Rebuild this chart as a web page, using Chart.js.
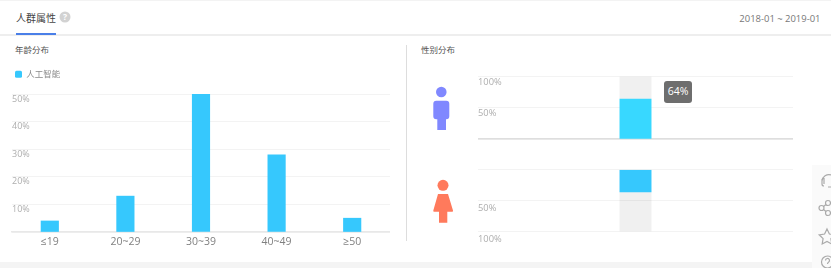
<!DOCTYPE html>
<html lang="zh">
<head>
<meta charset="utf-8">
<title>人群属性</title>
<script src="https://cdn.jsdelivr.net/npm/chart.js@4/dist/chart.umd.min.js"></script>
<style>
    html, body { margin: 0; padding: 0; background: #fff; }
    body { width: 831px; height: 268px; overflow: hidden; position: relative; font-family: "Open Sans", "Noto Sans CJK SC", sans-serif; }
    .abs { position: absolute; white-space: nowrap; }
    canvas { position: absolute; }
</style>
</head>
<body>
<div class="abs" style="left:0;top:0;width:831px;height:1px;background:#f3f3f3"></div>
<div class="abs" style="left:16px;top:10px;font-size:10px;line-height:16px;color:#444">人群属性</div>
<svg class="abs" style="left:59px;top:11px" width="12" height="12">
    <circle cx="6" cy="6" r="5.5" fill="#d2d2d2"/>
    <text x="6" y="9" font-size="8.5" font-weight="700" text-anchor="middle" fill="#fff">?</text>
</svg>
<div class="abs" style="left:0;top:34px;width:831px;height:1.5px;background:#eee"></div>
<div class="abs" style="left:16px;top:33px;width:40px;height:1.5px;background:#4a7fe8"></div>
<div class="abs" id="range" style="right:10.5px;top:11px;font-size:9.45px;line-height:16px;color:#777"></div>

<div class="abs" style="left:15px;top:43px;font-size:8.5px;line-height:14px;color:#555">年龄分布</div>
<div class="abs" style="left:421px;top:43px;font-size:8.5px;line-height:14px;color:#555">性别分布</div>
<div class="abs" style="left:406px;top:45px;width:1px;height:196px;background:#ddd"></div>

<svg class="abs" style="left:425px;top:80px" width="40" height="150">
    <circle cx="16.3" cy="12" r="5.3" fill="#8088ff"/>
    <path d="M11.3 20.7h10a3 3 0 0 1 3 3v12.6a3 3 0 0 1-3 3h-.3V50h-8.700V39.300h-1a3 3 0 0 1-3-3V23.700a3 3 0 0 1 3-3z" fill="#8088ff"/>
    <circle cx="18" cy="105.3" r="5.5" fill="#ff7a5c"/>
    <path d="M13 114h10l5 16.500q.4 1.200-1 1.200h-4.700V142.700h-8.300V131.700H9.300q-1.400 0-1-1.200z" fill="#ff7a5c"/>
</svg>

<canvas id="age" width="390" height="185" style="left:0;top:67px"></canvas>
<canvas id="male" width="315" height="75" style="left:478px;top:70px"></canvas>
<canvas id="female" width="315" height="80" style="left:478px;top:164px"></canvas>
<div class="abs" id="tip" style="left:664px;top:81px;width:28px;height:22px;line-height:21px;text-align:center;border-radius:3px;background:#6e6e6e;color:#fff;font-size:10.5px"></div>

<div class="abs" style="left:0;top:261.500px;width:812px;height:7px;background:#f4f4f4"></div>
<div class="abs" style="left:812px;top:165px;width:19px;height:103px;background:#fafafa"></div>
<svg class="abs" style="left:812px;top:165px" width="19" height="103" fill="none" stroke="#aaa" stroke-width="1.200">
    <path d="M10 16a7 7 0 0 1 9-6M10 14v5q0 2 2 2M12 13v6M16 22h3"/>
    <circle cx="9.500" cy="43" r="2.500"/><circle cx="16" cy="38" r="2.500"/><circle cx="16" cy="48" r="2.500"/>
    <path d="M11.500 41.500l2.500-2M11.500 44.500l2.500 2"/>
    <path d="M15 64l2.400 5 5.400.8-3.900 3.800.9 5.400-4.800-2.500-4.800 2.500.9-5.400-3.900-3.800 5.400-.8z"/>
    <circle cx="15.500" cy="97" r="6"/>
    <path d="M13.500 95.500a2 2 0 1 1 3 1.700q-1 .6-1 1.800"/>
</svg>

<script>
var dateRange = '2018-01 ~ 2019-01';
var seriesName = '人工智能';
var ageLabels = ['≤19', '20~29', '30~39', '40~49', '≥50'];
var ageValues = [4, 13, 50, 28, 5];
var genderLabels = ['性别'];
var maleValues = [64];
var maleRest = [36];
var femaleValues = [36];
var femaleRest = [64];

var fontFamily = '"Open Sans", "Noto Sans CJK SC", sans-serif';
var gridColor = '#f3f3f3';
var percent = function(v) { return v === 0 ? '' : v + '%'; };

document.getElementById('range').textContent = dateRange;
document.getElementById('tip').textContent = maleValues[0] + '%';

// espaco entre a legenda e o grafico
var legendGap = {
    id: 'legendGap',
    beforeInit: function(chart) {
        var fit = chart.legend.fit;
        chart.legend.fit = function() {
            fit.call(this);
            this.height += 5.5;
        };
    }
};

new Chart(document.getElementById('age').getContext('2d'), {
    type: 'bar',
    data: {
        labels: ageLabels,
        datasets: [{ label: seriesName, data: ageValues, backgroundColor: '#36c8fd', barThickness: 17.5 }]
    },
    plugins: [legendGap],
    options: {
        responsive: false,
        animation: false,
        events: [],
        layout: { padding: { left: 12, right: 0, top: 0, bottom: 0 } },
        plugins: {
            tooltip: { enabled: false },
            legend: {
                position: 'top',
                align: 'start',
                labels: {
                    boxWidth: 7,
                    boxHeight: 7,
                    padding: 3,
                    useBorderRadius: true,
                    borderRadius: 1.5,
                    color: '#8a8a8a',
                    font: { family: fontFamily, size: 8.5 }
                }
            }
        },
        scales: {
            x: {
                grid: { display: false, drawTicks: false },
                border: { color: '#e8e8e8', width: 1.5 },
                ticks: { color: '#808080', padding: 3.7, font: { family: fontFamily, size: 10.5 } }
            },
            y: {
                min: 0,
                max: 50,
                grid: { color: gridColor, drawTicks: false },
                border: { display: false },
                ticks: {
                    stepSize: 10,
                    mirror: true,
                    padding: 0,
                    labelOffset: 5,
                    color: '#aeaeae',
                    font: { family: fontFamily, size: 9 },
                    callback: percent
                }
            }
        }
    }
});

// os dois graficos de genero so mudam nos dados e no sentido do eixo
function genderChart(id, values, rest, color, reversed, padding, labelOffset) {
    return new Chart(document.getElementById(id).getContext('2d'), {
        type: 'bar',
        data: {
            labels: genderLabels,
            datasets: [
                { data: values, backgroundColor: color, barThickness: 31.3 },
                { data: rest, backgroundColor: 'rgba(0,0,0,0.06)', barThickness: 31.3 }
            ]
        },
        options: {
            responsive: false,
            animation: false,
            events: [],
            layout: { padding: padding },
            plugins: { legend: { display: false }, tooltip: { enabled: false } },
            scales: {
                x: {
                    stacked: true,
                    display: !reversed,
                    grid: { display: false, drawTicks: false },
                    border: { color: '#dedede', width: 1.5 },
                    ticks: { display: false }
                },
                y: {
                    stacked: true,
                    reverse: reversed,
                    min: 0,
                    max: 100,
                    grid: { color: gridColor, drawTicks: false },
                    border: { display: false },
                    ticks: {
                        stepSize: 50,
                        mirror: true,
                        padding: 0,
                        labelOffset: labelOffset,
                        color: '#aeaeae',
                        font: { family: fontFamily, size: 9.3 },
                        callback: percent
                    }
                }
            }
        }
    });
}

genderChart('male', maleValues, maleRest, '#38d8ff', false, { top: 6.5, bottom: 6 }, 6);
genderChart('female', femaleValues, femaleRest, '#36c8fd', true, { top: 5.7, bottom: 12.5 }, 7.8);
</script>
</body>
</html>
